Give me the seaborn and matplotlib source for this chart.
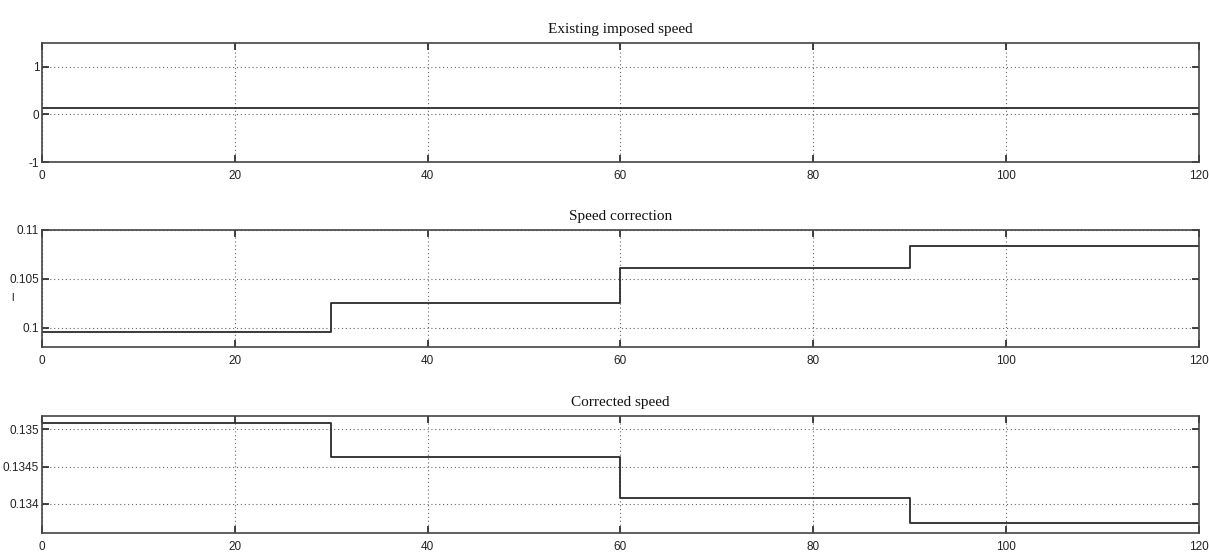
import matplotlib
matplotlib.use("Agg")
import matplotlib.pyplot as plt
import seaborn as sns
import pandas as pd

# Data
time_steps = [0, 30, 60, 90, 120]
imposed_time = [0, 120]
imposed_speed = [0.13, 0.13]
speed_correction = [0.0995, 0.10255, 0.1061, 0.10837, 0.10837]
corrected_speed = [0.13508, 0.13463, 0.13408, 0.13374, 0.13374]

titles = ["Existing imposed speed", "Speed correction", "Corrected speed"]
xticks = [0, 20, 40, 60, 80, 100, 120]
yticks = [[-1, 0, 1], [0.1, 0.105, 0.11], [0.134, 0.1345, 0.135]]
yticklabels = [["-1", "0", "1"], ["0.1", "0.105", "0.11"], ["0.134", "0.1345", "0.135"]]
ylims = [(-1, 1.5), (0.098, 0.11), (0.13361, 0.13518)]

sns.set_theme(style="white")
plt.rcParams['font.family'] = ['Liberation Sans', 'DejaVu Sans']

fig = plt.figure(figsize=(12.09, 5.53), dpi=100)
fig.patch.set_facecolor("white")

rects = [
    [0.0347, 0.707, 0.957, 0.215],
    [0.0347, 0.3725, 0.957, 0.2116],
    [0.0347, 0.0362, 0.957, 0.2116],
]

series = [
    (imposed_time, imposed_speed),
    (time_steps, speed_correction),
    (time_steps, corrected_speed),
]

for i, (rect, (xs, ys)) in enumerate(zip(rects, series)):
    ax = fig.add_axes(rect)
    df = pd.DataFrame({"t": xs, "v": ys})
    sns.lineplot(data=df, x="t", y="v", ax=ax, drawstyle="steps-post",
                 color="#2a2a2a", linewidth=1.3)
    ax.set_xlim(0, 120)
    ax.set_ylim(*ylims[i])
    ax.set_xticks(xticks)
    ax.set_xticklabels([str(x) for x in xticks])
    ax.set_yticks(yticks[i])
    ax.set_yticklabels(yticklabels[i])
    ax.set_xlabel("")
    ax.set_ylabel("")
    ax.grid(True, linestyle=(0, (1, 2.5)), color="#666666", linewidth=0.8)
    ax.tick_params(direction="in", length=5, width=1.2, top=True, right=True,
                   bottom=True, left=True,
                   labelsize=8.5, colors="#222222")
    ax.tick_params(axis="x", pad=6)
    ax.tick_params(axis="y", pad=2)
    for s in ax.spines.values():
        s.set_color("#444444")
        s.set_linewidth(1.2)
    ax.set_title(titles[i], family=["Liberation Serif", "DejaVu Serif"],
                 fontsize=11, pad=7, color="#111111")

fig.text(0.009, 0.455, "l", fontsize=8, color="#222222")

fig.savefig("out.png", dpi=100, facecolor="white")
